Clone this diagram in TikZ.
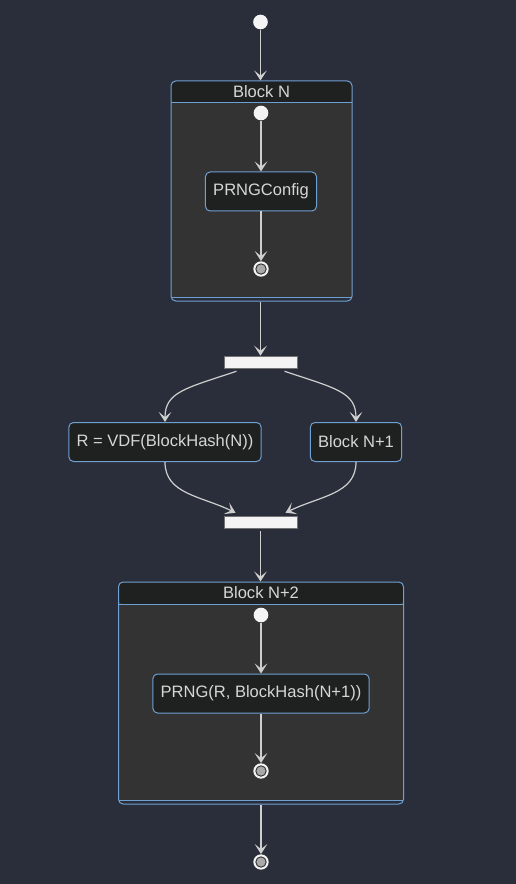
\documentclass[tikz,border=0pt]{standalone}
\usepackage{fontspec}
\setmainfont{Liberation Sans}
\usetikzlibrary{arrows.meta,positioning,calc}
\definecolor{bg}{HTML}{2A2E3A}
\definecolor{edge}{HTML}{6FA0D2}
\definecolor{head}{HTML}{1F2020}
\definecolor{body}{HTML}{333333}
\definecolor{wire}{HTML}{CFCFCF}
\definecolor{txt}{HTML}{D6D6D6}
\definecolor{dot}{HTML}{F4F4F4}
\definecolor{endfill}{HTML}{A9A9A9}

\begin{document}
\begin{tikzpicture}[
  x=0.75pt, y=-0.75pt,
  font=\fontsize{12.4}{14}\selectfont,
  >={Stealth[length=7.5pt,width=9.5pt,inset=3.75pt]},
  state/.style={draw=edge, fill=head, text=txt, rounded corners=3.5pt,
    line width=0.75pt, minimum height=29.25pt, inner xsep=5.8pt},
  frame/.style={draw=edge, fill=body, rounded corners=3.5pt, line width=0.75pt,
    path picture={
      \fill[head] (path picture bounding box.north west)
        rectangle ([yshift=-16.5pt]path picture bounding box.north east);
      \draw[edge, line width=0.75pt] ([yshift=-16.5pt]path picture bounding box.north west)
        -- ([yshift=-16.5pt]path picture bounding box.north east);
      \fill[bg] (path picture bounding box.south west)
        rectangle ([yshift=3pt]path picture bounding box.south east);
      \draw[edge, line width=0.75pt] ([yshift=3pt]path picture bounding box.south west)
        -- ([yshift=3pt]path picture bounding box.south east);
    }},
  title/.style={text=txt, inner sep=0pt, minimum height=16.5pt},
  startdot/.style={circle, fill=dot, inner sep=0pt, minimum size=11pt},
  enddot/.style={circle, fill=dot, inner sep=0pt, minimum size=11.5pt,
    path picture={\draw[fill=endfill, draw=body, line width=0.7pt]
      (path picture bounding box.center) circle (3.9pt);}},
  bar/.style={fill=dot, draw=black!55, line width=0.4pt, inner sep=0pt,
    minimum width=54.75pt, minimum height=9pt},
  flow/.style={->, draw=wire, line width=0.9pt}
]
  \fill[bg] (0,0) rectangle (516,884);
  \useasboundingbox (0,0) rectangle (516,884);

  \node[startdot] (start) at (260.5,22) {};

  % first composite state
  \node[frame, minimum width=135.75pt, minimum height=165pt] (blockN) at (261.5,191) {};
  \node[title, below=0pt of blockN.north] (blockNtitle) {Block N};
  \node[startdot] (startN) at (261,113) {};
  \node[state] (config) at (261,191.5) {PRNGConfig};
  \node[enddot] (endN) at (261,269) {};

  \draw[flow] (start) -- (start |- blockN.north);
  \draw[flow] (startN) -- (config);
  \draw[flow] (config) -- (endN);

  % fork and join
  \node[bar] (fork) at (260.5,362) {};
  \node[state] (vdf) at (165,442) {R = VDF(BlockHash(N))};
  \node[state] (next) at (356,442) {Block N+1};
  \node[bar] (join) at (260.5,522) {};

  \draw[flow] (blockN.south -| fork) -- (fork);
  \draw[flow] ($(fork.south)+(-24,3)$) .. controls ($(fork.south)+(-75,20)$)
    and ($(vdf.north)+(0,-30)$) .. (vdf.north);
  \draw[flow] ($(fork.south)+(24,3)$) .. controls ($(fork.south)+(75,20)$)
    and ($(next.north)+(0,-30)$) .. (next.north);
  \draw[flow] (vdf.south) .. controls ($(vdf.south)+(0,32)$)
    and ($(join.north)+(-60,-20)$) .. ($(join.north)+(-25,-3)$);
  \draw[flow] (next.south) .. controls ($(next.south)+(0,32)$)
    and ($(join.north)+(60,-20)$) .. ($(join.north)+(25,-3)$);

  % second composite state
  \node[frame, minimum width=213.75pt, minimum height=166.5pt] (blockN2) at (261,693) {};
  \node[title, below=0pt of blockN2.north] (blockN2title) {Block N+2};
  \node[startdot] (startN2) at (261,615) {};
  \node[state] (prng) at (261,693.5) {PRNG(R, BlockHash(N+1))};
  \node[enddot] (endN2) at (261,771) {};
  \node[enddot] (finish) at (261,862) {};

  \draw[flow] ($(join.south)+(0,3)$) -- (join |- blockN2.north);
  \draw[flow] (startN2) -- (prng);
  \draw[flow] (prng) -- (endN2);
  \draw[flow] (blockN2.south -| finish) -- (finish);
\end{tikzpicture}
\end{document}
